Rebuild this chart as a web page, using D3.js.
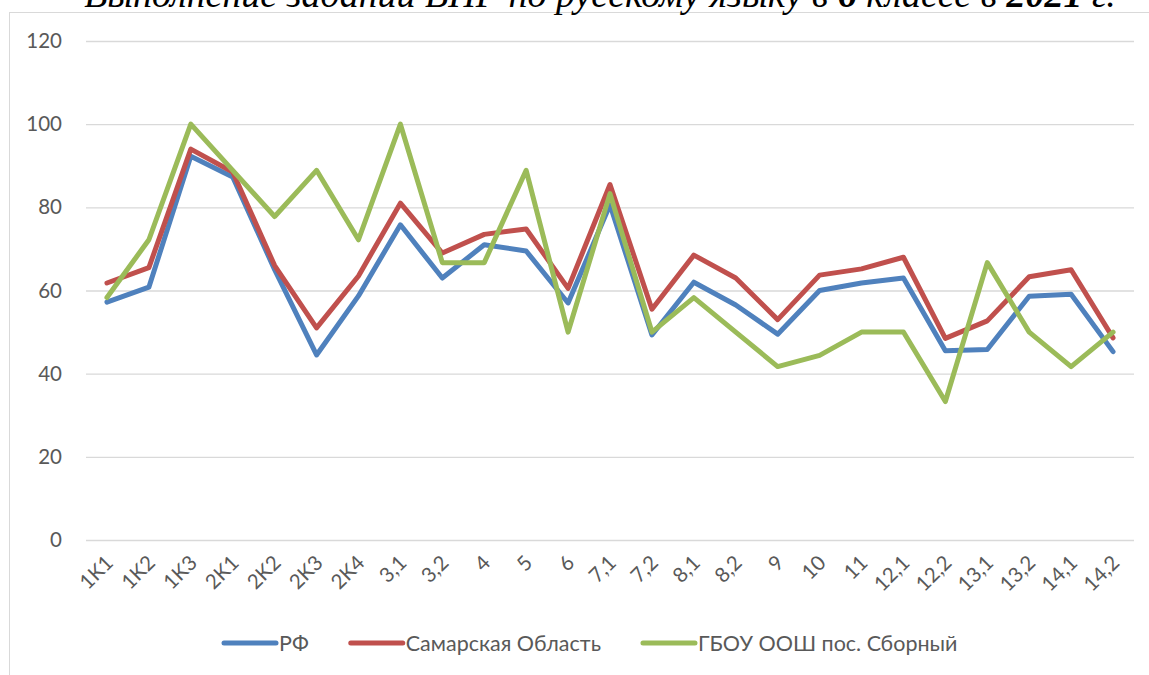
<!DOCTYPE html>
<html>
<head>
<meta charset="utf-8">
<script src="https://cdn.jsdelivr.net/npm/d3@7"></script>
<style>
  html, body { margin: 0; padding: 0; background: #fff; }
  svg { display: block; }
</style>
</head>
<body>
<svg id="chart" width="1149" height="675"></svg>
<script>
// Task labels along the x axis
const categories = ["1K1", "1K2", "1K3", "2K1", "2K2", "2K3", "2K4", "3,1", "3,2", "4", "5", "6",
  "7,1", "7,2", "8,1", "8,2", "9", "10", "11", "12,1", "12,2", "13,1", "13,2", "14,1", "14,2"];

const rfValues = [57.2, 60.8, 92.3, 87.3, 65, 44.5, 58.7, 75.8, 63, 71, 69.5, 57,
  80.6, 49.3, 62, 56.5, 49.5, 60, 61.8, 63, 45.5, 45.8, 58.6, 59.1, 45.3];
const samaraValues = [61.8, 65.5, 94, 88.5, 66, 51, 63.5, 81, 69, 73.5, 74.8, 60.5,
  85.5, 55.5, 68.5, 63, 53, 63.7, 65.2, 68, 48.5, 52.7, 63.3, 65, 48.6];
const schoolValues = [58.3, 72.2, 100, 88.9, 77.8, 88.9, 72.2, 100, 66.7, 66.7, 88.9, 50,
  83.3, 50, 58.3, 50, 41.7, 44.4, 50, 50, 33.3, 66.7, 50, 41.7, 50];

const seriesNames = ["РФ", "Самарская Область", "ГБОУ ООШ пос. Сборный"];
const seriesColors = ["#4F81BD", "#C0504D", "#9BBB59"];
const yTicks = [0, 20, 40, 60, 80, 100, 120];

const plot = { left: 86, right: 1134, top: 41, bottom: 540 };
const FONT = "Lato, 'Open Sans', sans-serif";
const FONT_SIZE = 20.5;
const LEGEND_FONT_SIZE = 21.5;
const TEXT_COLOR = "#595959";

const svg = d3.select("#chart");

// Chart frame
svg.append("rect")
  .attr("x", 9.5)
  .attr("y", 12.5)
  .attr("width", 1150)
  .attr("height", 680)
  .attr("fill", "#fff")
  .attr("stroke", "#D9D9D9")
  .attr("stroke-width", 1);

// Title, mostly cropped off at the top
const title = svg.append("text")
  .attr("x", 600)
  .attr("y", 7)
  .attr("text-anchor", "middle")
  .attr("font-family", "'Liberation Serif', 'Times New Roman', serif")
  .attr("font-style", "italic")
  .attr("font-size", 38)
  .attr("fill", "#000");
title.append("tspan").text("Выполнение заданий ВПР по русскому языку в ");
title.append("tspan").attr("font-weight", "bold").text("6");
title.append("tspan").text(" классе в ");
title.append("tspan").attr("font-weight", "bold").text("2021");
title.append("tspan").text(" г.");

const x = d3.scalePoint()
  .domain(categories)
  .range([plot.left, plot.right])
  .padding(0.5);

const y = d3.scaleLinear()
  .domain([0, 120])
  .range([plot.bottom, plot.top]);

// Gridlines + y labels
const yAxis = d3.axisLeft(y)
  .tickValues(yTicks)
  .tickSize(-(plot.right - plot.left))
  .tickPadding(24);

const yG = svg.append("g")
  .attr("transform", "translate(" + plot.left + ",0)")
  .call(yAxis);
yG.select(".domain").remove();
yG.selectAll(".tick line").attr("stroke", "#D9D9D9").attr("stroke-width", 1.3);
yG.selectAll(".tick text")
  .attr("fill", TEXT_COLOR)
  .attr("font-family", FONT)
  .attr("font-size", FONT_SIZE);

// x labels rotated -45
const xAxis = d3.axisBottom(x).tickSize(0).tickPadding(0);
const xG = svg.append("g")
  .attr("transform", "translate(0," + plot.bottom + ")")
  .call(xAxis);
xG.select(".domain").remove();
xG.selectAll(".tick text")
  .attr("fill", TEXT_COLOR)
  .attr("font-family", FONT)
  .attr("font-size", FONT_SIZE)
  .attr("text-anchor", "end")
  .attr("dy", 0)
  .attr("transform", "translate(7,24) rotate(-45)");

// Lines
const allSeries = [rfValues, samaraValues, schoolValues];
const line = d3.line()
  .x((d, i) => x(categories[i]))
  .y((d) => y(d));

svg.append("g")
  .selectAll("path")
  .data(allSeries)
  .join("path")
  .attr("d", line)
  .attr("fill", "none")
  .attr("stroke", (d, i) => seriesColors[i])
  .attr("stroke-width", 5)
  .attr("stroke-linejoin", "round")
  .attr("stroke-linecap", "round");

// Legend, laid out left to right from measured text widths
const legendG = svg.append("g").attr("transform", "translate(222,643)");
let cursor = 0;
seriesNames.forEach((name, i) => {
  const item = legendG.append("g").attr("transform", "translate(" + cursor + ",0)");
  item.append("line")
    .attr("x1", 2)
    .attr("x2", 54)
    .attr("stroke", seriesColors[i])
    .attr("stroke-width", 5)
    .attr("stroke-linecap", "round");
  const label = item.append("text")
    .attr("x", 57)
    .attr("dy", "0.35em")
    .attr("fill", TEXT_COLOR)
    .attr("font-family", FONT)
    .attr("font-size", LEGEND_FONT_SIZE)
    .text(name);
  cursor += 57 + label.node().getComputedTextLength() + 40;
});
</script>
</body>
</html>
